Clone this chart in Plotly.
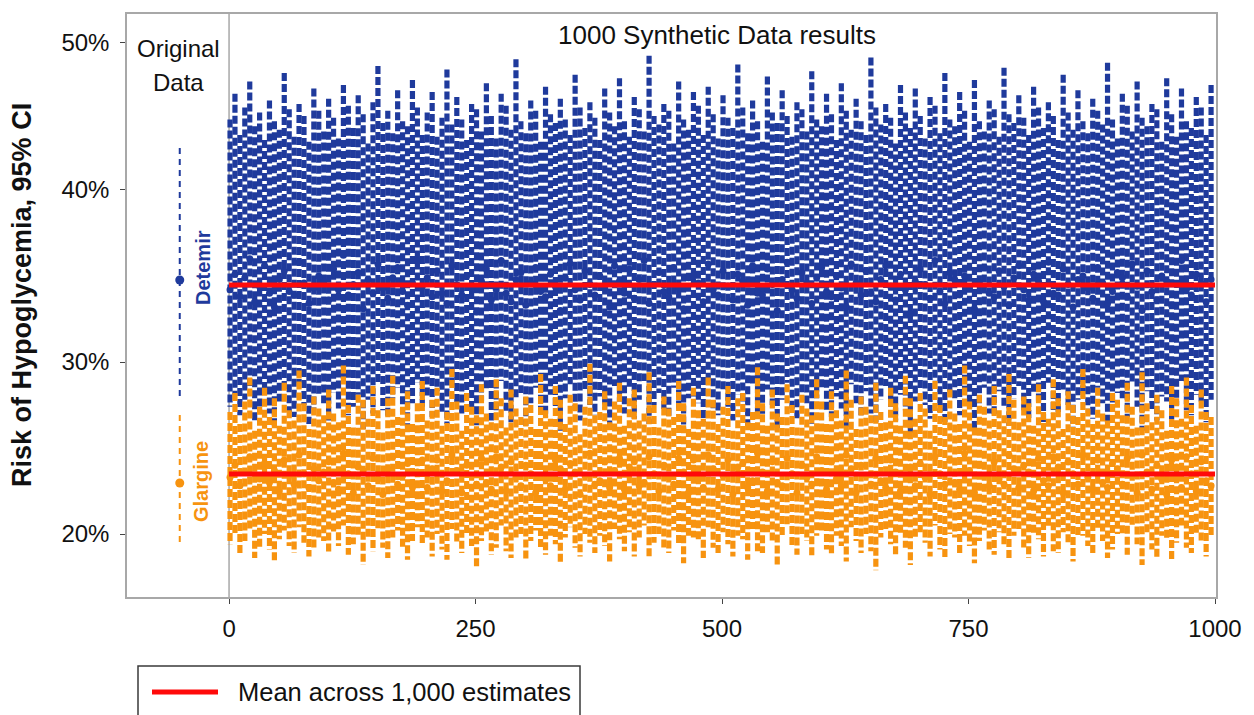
import plotly.graph_objects as go

# ---------------- data ----------------
SIM_INDEX = list(range(1, 1001, 5))          # synthetic data set index (every 5th drawn)
SIM_SPAN = [0, 1000]                          # range of synthetic data sets
ORIG_X = -50                                  # position of the "Original Data" column

DET_UP = [
    44.1, 45.6, 43.2, 44.8, 46.3, 43.7, 44.5, 42.9, 45.2, 44.0, 43.5, 46.8, 44.7, 43.1, 45.0, 44.3, 42.8, 45.9, 44.6, 43.4,
    45.3, 44.2, 43.0, 46.1, 44.9, 43.6, 45.5, 44.4, 42.7, 45.1, 47.2, 43.9, 44.6, 43.3, 45.8, 44.0, 43.7, 46.4, 44.8, 43.2,
    44.5, 45.7, 43.1, 44.2, 47.0, 43.8, 45.4, 44.1, 42.9, 45.0, 44.7, 43.4, 46.2, 44.3, 43.0, 45.6, 44.9, 43.5, 47.6, 44.0,
    43.3, 45.2, 44.6, 42.8, 46.0, 44.4, 43.9, 45.3, 44.1, 43.2, 46.7, 44.8, 43.6, 45.1, 44.2, 42.9, 45.9, 44.5, 43.7, 46.5,
    44.0, 43.1, 45.4, 44.7, 43.4, 47.8, 44.3, 43.8, 45.0, 44.6, 42.7, 46.3, 44.1, 43.5, 45.7, 44.9, 43.2, 46.0, 44.4, 43.0,
    45.5, 44.2, 43.6, 47.3, 44.8, 43.3, 45.2, 44.0, 42.8, 46.6, 44.5, 43.9, 45.8, 44.3, 43.1, 45.1, 44.7, 43.4, 46.9, 44.1,
    43.7, 45.6, 44.4, 42.9, 46.2, 44.6, 43.5, 45.3, 44.0, 43.2, 47.7, 44.8, 43.8, 45.0, 44.2, 42.7, 46.1, 44.5, 43.6, 45.9,
    44.3, 43.0, 45.4, 44.9, 43.3, 46.8, 44.1, 43.7, 45.7, 44.6, 42.8, 46.4, 44.0, 43.4, 45.2, 44.7, 43.1, 47.1, 44.4, 43.9,
    45.5, 44.2, 43.2, 46.0, 44.8, 43.6, 45.1, 44.3, 42.9, 46.7, 44.5, 43.5, 45.8, 44.0, 43.3, 45.3, 44.6, 43.8, 47.4, 44.1,
    43.0, 45.6, 44.9, 43.4, 46.3, 44.2, 43.7, 45.0, 44.7, 42.8, 46.5, 44.4, 43.1, 45.9, 44.0, 43.6, 45.4, 44.8, 43.2, 46.1,
]
DET_LO = [
    27.4, 28.1, 26.9, 27.8, 28.6, 26.5, 27.2, 28.3, 27.0, 26.3, 27.7, 28.4, 27.1, 26.8, 28.8, 27.5, 26.4, 27.3, 28.0, 27.6,
    26.6, 28.2, 27.3, 28.9, 26.9, 27.4, 28.1, 26.1, 27.8, 27.0, 28.7, 27.2, 26.7, 27.9, 28.5, 27.1, 26.2, 27.6, 28.8, 27.4,
    27.9, 26.8, 28.3, 27.0, 26.4, 28.6, 27.5, 26.9, 28.0, 27.3, 25.9, 27.7, 28.4, 26.6, 27.2, 28.9, 27.0, 26.5, 27.8, 28.2,
    26.3, 27.6, 28.5, 27.1, 26.8, 28.1, 27.4, 26.0, 27.9, 28.7, 27.2, 26.6, 28.3, 27.5, 26.9, 28.0, 27.3, 26.2, 28.6, 27.7,
    27.0, 28.4, 26.7, 27.8, 28.9, 26.4, 27.5, 28.2, 27.1, 26.8, 28.5, 27.3, 26.1, 27.9, 28.0, 27.6, 26.5, 28.7, 27.2, 26.9,
    28.3, 27.4, 26.6, 28.1, 27.7, 26.3, 28.6, 27.0, 26.9, 28.4, 27.5, 26.0, 27.8, 28.8, 27.2, 26.7, 28.2, 27.6, 26.4, 27.9,
    28.5, 27.1, 26.8, 28.0, 27.3, 26.2, 28.7, 27.6, 26.9, 28.3, 27.0, 26.5, 27.8, 28.6, 27.4, 26.6, 28.1, 27.2, 25.8, 27.7,
    28.4, 27.5, 26.7, 28.9, 27.1, 26.4, 28.2, 27.8, 26.9, 28.0, 27.3, 26.1, 27.6, 28.5, 27.0, 26.8, 28.3, 27.4, 26.3, 27.9,
    28.6, 27.2, 26.6, 28.1, 27.7, 26.5, 28.8, 27.0, 26.9, 28.4, 27.5, 26.2, 27.8, 28.0, 27.3, 26.7, 28.5, 27.6, 26.4, 27.1,
    28.2, 27.9, 26.8, 28.7, 27.4, 26.0, 28.3, 27.1, 26.6, 28.0, 27.7, 26.3, 27.5, 28.9, 27.2, 26.9, 28.1, 27.6, 26.5, 27.8,
]
DET_EST = [
    34.2, 35.1, 33.8, 34.9, 36.0, 33.5, 34.4, 35.6, 34.0, 33.2, 34.8, 35.3, 34.1, 33.9, 35.8, 34.6, 33.4, 34.3, 35.0, 34.7,
    33.6, 35.4, 34.2, 36.2, 33.9, 34.5, 35.2, 33.1, 34.8, 34.0, 35.7, 34.3, 33.7, 34.9, 35.5, 34.1, 33.3, 34.6, 35.9, 34.4,
    34.9, 33.8, 35.3, 34.0, 33.4, 35.6, 34.5, 33.9, 35.0, 34.3, 32.9, 34.7, 35.4, 33.6, 34.2, 35.9, 34.0, 33.5, 34.8, 35.2,
    33.3, 34.6, 35.5, 34.1, 33.8, 35.1, 34.4, 33.0, 34.9, 35.7, 34.2, 33.6, 35.3, 34.5, 33.9, 35.0, 34.3, 33.2, 35.6, 34.7,
    34.0, 35.4, 33.7, 34.8, 35.9, 33.4, 34.5, 35.2, 34.1, 33.8, 35.5, 34.3, 33.1, 34.9, 35.0, 34.6, 33.5, 35.7, 34.2, 33.9,
    35.3, 34.4, 33.6, 35.1, 34.7, 33.3, 35.6, 34.0, 33.9, 35.4, 34.5, 33.0, 34.8, 35.8, 34.2, 33.7, 35.2, 34.6, 33.4, 34.9,
    35.5, 34.1, 33.8, 35.0, 34.3, 33.2, 35.7, 34.6, 33.9, 35.3, 34.0, 33.5, 34.8, 35.6, 34.4, 33.6, 35.1, 34.2, 32.8, 34.7,
    35.4, 34.5, 33.7, 35.9, 34.1, 33.4, 35.2, 34.8, 33.9, 35.0, 34.3, 33.1, 34.6, 35.5, 34.0, 33.8, 35.3, 34.4, 33.3, 34.9,
    35.6, 34.2, 33.6, 35.1, 34.7, 33.5, 35.8, 34.0, 33.9, 35.4, 34.5, 33.2, 34.8, 35.0, 34.3, 33.7, 35.5, 34.6, 33.4, 34.1,
    35.2, 34.9, 33.8, 35.7, 34.4, 33.0, 35.3, 34.1, 33.6, 35.0, 34.7, 33.3, 34.5, 35.9, 34.2, 33.9, 35.1, 34.6, 33.5, 34.8,
]
GLA_UP = [
    27.1, 28.2, 26.4, 27.7, 29.1, 26.0, 27.4, 28.5, 26.8, 27.9, 26.3, 28.8, 27.2, 26.6, 29.5, 27.6, 26.1, 28.0, 27.3, 26.9,
    28.4, 27.0, 26.5, 29.8, 27.5, 26.2, 28.1, 27.8, 26.7, 28.6, 27.2, 25.9, 27.9, 29.2, 26.8, 27.4, 28.3, 26.4, 27.6, 28.9,
    26.6, 27.8, 28.5, 26.3, 27.1, 29.6, 27.7, 26.0, 28.2, 27.4, 26.9, 28.7, 27.0, 26.5, 29.0, 27.9, 26.2, 28.4, 27.3, 26.8,
    28.0, 27.5, 26.1, 29.3, 27.2, 26.7, 28.6, 27.8, 26.4, 28.1, 27.6, 25.8, 27.4, 29.9, 26.9, 27.1, 28.3, 26.5, 27.7, 28.8,
    26.3, 27.9, 28.4, 26.6, 27.0, 29.4, 27.5, 26.2, 28.0, 27.3, 26.8, 28.9, 27.6, 26.1, 28.5, 27.2, 26.7, 29.1, 27.8, 26.4,
    27.4, 28.6, 26.0, 27.9, 28.2, 26.5, 27.1, 29.7, 27.6, 26.3, 28.4, 27.0, 26.8, 28.7, 27.5, 26.2, 28.1, 27.3, 26.9, 29.0,
    27.7, 26.4, 28.3, 27.2, 26.6, 29.5, 27.8, 26.1, 28.0, 27.4, 26.9, 28.8, 27.1, 26.5, 28.5, 27.6, 26.3, 29.2, 27.9, 26.7,
    28.2, 27.3, 26.0, 28.9, 27.5, 26.8, 28.4, 27.0, 26.4, 29.8, 27.7, 26.2, 28.1, 27.4, 26.6, 28.6, 27.2, 26.9, 29.3, 27.8,
    26.5, 28.0, 27.6, 26.3, 28.7, 27.1, 26.7, 29.0, 27.9, 26.1, 28.3, 27.5, 26.8, 29.6, 27.3, 26.4, 28.5, 27.0, 26.6, 28.2,
    27.8, 26.9, 28.8, 27.4, 26.2, 29.4, 27.6, 26.5, 28.1, 27.2, 26.0, 28.6, 27.9, 26.7, 29.1, 27.5, 26.3, 28.4, 27.1, 26.8,
]
GLA_LO = [
    19.4, 19.9, 18.8, 19.6, 20.3, 18.6, 19.2, 20.0, 19.1, 18.4, 19.7, 20.2, 19.3, 18.9, 20.4, 19.5, 18.7, 19.2, 19.8, 19.6,
    18.9, 20.1, 19.3, 20.5, 18.8, 19.4, 19.9, 18.2, 19.7, 19.0, 20.3, 19.2, 18.6, 19.8, 20.2, 19.1, 18.5, 19.6, 20.4, 19.4,
    19.8, 18.7, 20.0, 19.1, 18.5, 20.3, 19.5, 18.9, 19.9, 19.3, 18.0, 19.6, 20.1, 18.8, 19.2, 20.5, 19.0, 18.6, 19.7, 20.0,
    18.5, 19.6, 20.2, 19.1, 18.8, 19.9, 19.4, 18.3, 19.8, 20.4, 19.2, 18.7, 20.0, 19.5, 18.9, 19.9, 19.3, 18.4, 20.3, 19.7,
    19.0, 20.1, 18.7, 19.8, 20.5, 18.6, 19.5, 20.0, 19.1, 18.9, 20.2, 19.3, 18.3, 19.9, 19.8, 19.6, 18.6, 20.4, 19.2, 18.9,
    20.1, 19.4, 18.7, 19.9, 19.7, 18.5, 20.3, 19.0, 18.9, 20.1, 19.5, 18.1, 19.8, 20.4, 19.2, 18.8, 20.0, 19.6, 18.6, 19.9,
    20.2, 19.1, 18.8, 19.9, 19.3, 18.4, 20.4, 19.6, 18.9, 20.0, 19.0, 17.9, 19.8, 20.3, 19.4, 18.7, 19.9, 19.2, 18.2, 19.7,
    20.1, 19.5, 18.7, 20.5, 19.1, 18.6, 20.0, 19.8, 18.9, 19.9, 19.3, 18.3, 19.6, 20.2, 19.0, 18.8, 20.1, 19.4, 18.5, 19.9,
    20.3, 19.2, 18.6, 19.9, 19.7, 18.7, 20.4, 19.0, 18.9, 20.1, 19.5, 18.4, 19.8, 19.9, 19.3, 18.8, 20.2, 19.6, 18.6, 19.1,
    20.0, 19.9, 18.8, 20.4, 19.4, 18.2, 20.1, 19.1, 18.6, 19.9, 19.7, 18.5, 19.5, 20.5, 19.2, 18.9, 20.0, 19.6, 18.7, 19.8,
]
GLA_EST = [
    23.3, 24.0, 22.8, 23.6, 24.5, 22.6, 23.2, 24.1, 23.0, 23.7, 22.5, 24.3, 23.4, 22.9, 24.6, 23.5, 22.7, 23.8, 23.1, 23.6,
    24.2, 23.0, 22.6, 24.7, 23.5, 22.4, 23.9, 23.7, 22.8, 24.4, 23.2, 22.3, 23.8, 24.5, 22.9, 23.4, 24.1, 22.7, 23.6, 24.3,
    22.7, 23.8, 24.3, 22.5, 23.1, 24.6, 23.7, 22.4, 24.0, 23.4, 22.9, 24.4, 23.0, 22.6, 24.5, 23.9, 22.5, 24.2, 23.3, 22.8,
    24.0, 23.5, 22.4, 24.6, 23.2, 22.8, 24.3, 23.8, 22.6, 24.1, 23.6, 22.3, 23.4, 24.7, 22.9, 23.1, 24.2, 22.7, 23.7, 24.4,
    22.6, 23.9, 24.2, 22.8, 23.0, 24.5, 23.5, 22.5, 24.0, 23.3, 22.9, 24.4, 23.6, 22.4, 24.3, 23.2, 22.7, 24.6, 23.8, 22.6,
    23.4, 24.3, 22.3, 23.9, 24.1, 22.7, 23.1, 24.7, 23.6, 22.5, 24.2, 23.0, 22.8, 24.4, 23.5, 22.4, 24.0, 23.3, 22.9, 24.5,
    23.7, 22.6, 24.2, 23.2, 22.8, 24.6, 23.8, 22.4, 24.0, 23.4, 22.9, 24.4, 23.1, 22.7, 24.3, 23.6, 22.5, 24.5, 23.9, 22.8,
    24.1, 23.3, 22.3, 24.5, 23.5, 22.9, 24.3, 23.0, 22.6, 24.7, 23.7, 22.4, 24.0, 23.4, 22.8, 24.2, 23.2, 22.9, 24.6, 23.8,
    22.7, 24.0, 23.6, 22.5, 24.4, 23.1, 22.8, 24.5, 23.9, 22.4, 24.2, 23.5, 22.9, 24.6, 23.3, 22.6, 24.3, 23.0, 22.7, 24.1,
    23.8, 22.9, 24.4, 23.4, 22.4, 24.6, 23.6, 22.6, 24.0, 23.2, 22.3, 24.3, 23.9, 22.7, 24.5, 23.5, 22.5, 24.2, 23.1, 22.8,
]
DET_MEAN = 34.48
GLA_MEAN = 23.49

ORIG_DET = {"est": 34.77, "lo": 27.79, "hi": 42.44}
ORIG_GLA = {"est": 22.97, "lo": 19.36, "hi": 26.92}

Y_TICK_VALUES = [20, 30, 40, 48.55]
Y_TICK_TEXT = ["20%", "30%", "40%", "50%"]
X_TICK_VALUES = [0, 250, 500, 750, 1000]

# ---------------- style ----------------
BLUE = "#1f3a9c"
ORANGE = "#f7930f"
RED = "#ff0a0a"
FRAME = "#a8a8a8"
FONT = "Liberation Sans, Arial, sans-serif"


def ci_xy(xs, lo, hi):
    X, Y = [], []
    for x, l, h in zip(xs, lo, hi):
        X += [x, x, None]
        Y += [h, l, None]
    return X, Y


fig = go.Figure()

for lo, hi, est, col in [(DET_LO, DET_UP, DET_EST, BLUE), (GLA_LO, GLA_UP, GLA_EST, ORANGE)]:
    X, Y = ci_xy(SIM_INDEX, lo, hi)
    fig.add_trace(go.Scatter(x=X, y=Y, mode="lines",
                             line=dict(color=col, width=5.2, dash="8px,3px"),
                             hoverinfo="skip", showlegend=False))
    fig.add_trace(go.Scatter(x=SIM_INDEX, y=est, mode="markers",
                             marker=dict(color=col, size=7),
                             hoverinfo="skip", showlegend=False))

for m in (DET_MEAN, GLA_MEAN):
    fig.add_trace(go.Scatter(x=SIM_SPAN, y=[m, m], mode="lines",
                             line=dict(color=RED, width=5),
                             name="Mean across 1,000 estimates", showlegend=False))

for d, col in [(ORIG_DET, BLUE), (ORIG_GLA, ORANGE)]:
    fig.add_trace(go.Scatter(x=[ORIG_X, ORIG_X], y=[d["hi"], d["lo"]], mode="lines",
                             line=dict(color=col, width=2, dash="6px,5px"),
                             hoverinfo="skip", showlegend=False))
    fig.add_trace(go.Scatter(x=[ORIG_X], y=[d["est"]], mode="markers",
                             marker=dict(color=col, size=9),
                             hoverinfo="skip", showlegend=False))

# plot area in pixels: x 127..1216, y 14..597
L, R, T, B = 127, 1216, 14, 597


def px(xp):
    return (xp - L) / (R - L)


def py(yp):
    return (B - yp) / (B - T)


shapes = [
    dict(type="line", xref="x", yref="paper", x0=0, x1=0, y0=0, y1=1,
         line=dict(color=FRAME, width=1.5), layer="below"),
    # manual legend box
    dict(type="rect", xref="paper", yref="paper", x0=px(138), x1=px(580), y0=py(666), y1=py(730),
         line=dict(color="#3a3a3a", width=1.5), fillcolor="rgba(0,0,0,0)"),
    dict(type="line", xref="paper", yref="paper", x0=px(152), x1=px(218), y0=py(692), y1=py(692),
         line=dict(color=RED, width=5)),
]


def ann(text, x, y, size, color="#111", angle=0, xanchor="center"):
    return dict(text=text, xref="paper", yref="paper", x=px(x), y=py(y), showarrow=False,
                xanchor=xanchor, yanchor="middle", textangle=angle,
                font=dict(size=size, color=color))


annotations = [
    ann("Original", 178, 48, 24),
    ann("Data", 178, 82, 24),
    ann("1000 Synthetic Data results", 717, 35, 26),
    ann("<b>Detemir</b>", 203, 268, 20, BLUE, -90),
    ann("<b>Glargine</b>", 201, 482, 20, ORANGE, -90),
    ann("<b>Risk of Hypoglycemia, 95% CI</b>", 22, 295, 27, "#111", -90),
    ann("Mean across 1,000 estimates", 236, 692, 25.5, "#111", 0, "left"),
]

fig.update_layout(
    width=1254, height=715,
    margin=dict(l=L, r=1254 - R, t=T, b=715 - B),
    paper_bgcolor="white", plot_bgcolor="white",
    font=dict(family=FONT, color="#111"),
    showlegend=False,
    shapes=shapes, annotations=annotations,
    xaxis=dict(range=[-103.5, 1001], tickvals=X_TICK_VALUES, showgrid=False, zeroline=False,
               showline=True, linecolor=FRAME, linewidth=1.5, mirror=True,
               ticks="outside", ticklen=5, tickcolor="#444", tickfont=dict(size=24, color="#111"),
               ticklabelstandoff=4),
    yaxis=dict(range=[16.34, 50.23], tickvals=Y_TICK_VALUES, ticktext=Y_TICK_TEXT,
               showgrid=False, zeroline=False,
               showline=True, linecolor=FRAME, linewidth=1.5, mirror=True,
               ticks="outside", ticklen=5, tickcolor="#444", tickfont=dict(size=24, color="#111"),
               ticklabelstandoff=6),
)

fig.write_html("out.html")
